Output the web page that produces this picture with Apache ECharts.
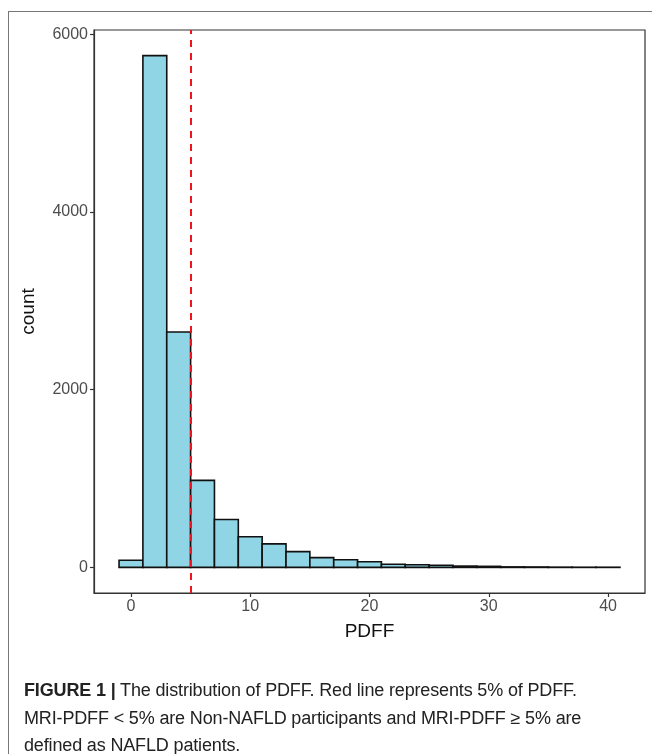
<!DOCTYPE html>
<html>
<head>
<meta charset="utf-8">
<script src="https://cdn.jsdelivr.net/npm/echarts@6/dist/echarts.min.js"></script>
<style>
html,body{margin:0;padding:0;background:#fff;}
#wrap{position:relative;width:652px;height:754px;overflow:hidden;}
#frame{position:absolute;left:8px;top:11px;width:700px;height:800px;border-left:1px solid #777;border-top:1px solid #777;}
#chart{position:absolute;left:0;top:0;width:652px;height:754px;}
#cap{position:absolute;left:24px;top:677px;width:625px;font-family:"Liberation Sans",Arial,sans-serif;font-size:18px;line-height:27.5px;color:#222;letter-spacing:-0.15px;}
</style>
</head>
<body>
<div id="wrap">
<div id="frame"></div>
<div id="chart"></div>
<div id="cap"><b>FIGURE 1 |</b> The distribution of PDFF. Red line represents 5% of PDFF.<br>MRI-PDFF &lt; 5% are Non-NAFLD participants and MRI-PDFF ≥ 5% are<br>defined as NAFLD patients.</div>
</div>
<script>
var binCenters = [0, 2, 4, 6, 8, 10, 12, 14, 16, 18, 20, 22, 24, 26, 28, 30, 32, 34, 36, 38, 40];
var counts = [80, 5760, 2650, 980, 540, 345, 265, 178, 110, 87, 64, 36, 30, 25, 15, 12, 6, 5, 3, 2, 2];
var binWidth = 2;
var cutoff = 5;
var xTicks = [0, 10, 20, 30, 40];
var yTicks = [0, 2000, 4000, 6000];

var data = binCenters.map(function (c, i) { return [c, counts[i]]; });
var chart = echarts.init(document.getElementById('chart'));
var font = 'Liberation Sans, Arial, sans-serif';
chart.setOption({
  animation: false,
  grid: { left: 94, right: 7, top: 30, bottom: 161, show: true, borderColor: '#333', borderWidth: 1.2, outerBoundsMode: 'none', containLabel: false },
  xAxis: {
    type: 'value', min: -3.1, max: 43.1,
    splitLine: { show: false },
    axisLine: { show: true, onZero: false, lineStyle: { color: '#333', width: 1.2 } },
    axisTick: { show: true, length: 4, customValues: xTicks, lineStyle: { color: '#333', width: 1.2 } },
    axisLabel: { customValues: xTicks, color: '#4d4d4d', fontSize: 16, margin: 6, fontFamily: font, formatter: function (v) { return String(v); } },
    name: 'PDFF', nameLocation: 'middle', nameGap: 29,
    nameTextStyle: { color: '#111', fontSize: 19, fontFamily: font }
  },
  yAxis: {
    type: 'value', min: -288, max: 6048,
    splitLine: { show: false },
    axisLine: { show: true, onZero: false, lineStyle: { color: '#333', width: 1.2 } },
    axisTick: { show: true, length: 4, customValues: yTicks, lineStyle: { color: '#333', width: 1.2 } },
    axisLabel: { customValues: yTicks, color: '#4d4d4d', fontSize: 16, margin: 6, fontFamily: font, formatter: function (v) { return String(v); } },
    name: 'count', nameLocation: 'middle', nameGap: 56, nameRotate: 90,
    nameTextStyle: { color: '#111', fontSize: 19, fontFamily: font }
  },
  series: [{
    type: 'custom',
    data: data,
    renderItem: function (params, api) {
      var c = api.value(0), v = api.value(1);
      var p1 = api.coord([c - binWidth / 2, v]);
      var p2 = api.coord([c + binWidth / 2, 0]);
      return {
        type: 'rect',
        shape: { x: p1[0], y: p1[1], width: p2[0] - p1[0], height: p2[1] - p1[1] },
        style: { fill: '#8fd5e6', stroke: '#111', lineWidth: 1.6 }
      };
    },
    markLine: {
      silent: true, symbol: 'none', label: { show: false },
      lineStyle: { color: '#f0141e', type: [7, 6], width: 2 },
      data: [[{ coord: [cutoff, -288] }, { coord: [cutoff, 6048] }]]
    },
    z: 2
  }]
});
</script>
</body>
</html>
